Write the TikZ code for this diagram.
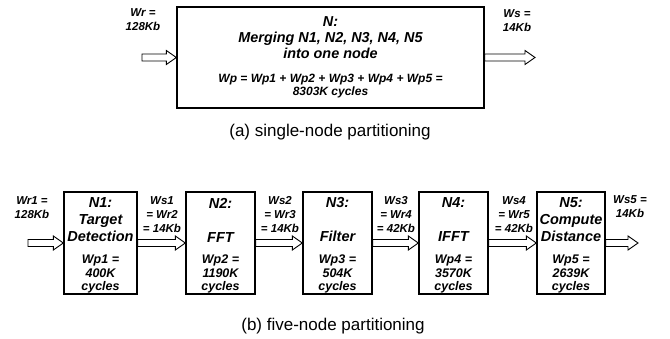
\documentclass[tikz,border=0pt]{standalone}
\usepackage{fontspec}
\setmainfont{Liberation Sans}
\usetikzlibrary{calc}

% hollow block arrow from one point to another (horizontal)
\newcommand\blockarrow[2]{%
  \draw[blockarrow] let \p1=(#1), \p2=(#2) in
    (\x1,\y1+3.5pt) -- (\x2-10pt,\y1+3.5pt) -- (\x2-10pt,\y1+7pt) -- (\x2,\y1)
    -- (\x2-10pt,\y1-7pt) -- (\x2-10pt,\y1-3.5pt) -- (\x1,\y1-3.5pt) -- cycle;}

\tikzset{
  blockarrow/.style={draw=black, fill=white, line width=0.9pt, line join=miter},
  procbox/.style={draw=black, line width=1.3pt, inner sep=0pt},
  bigtitle/.style={font=\fontsize{14.4}{16}\selectfont\bfseries\itshape, align=center, inner sep=0pt},
  bigwp/.style={font=\fontsize{12}{13.5}\selectfont\bfseries\itshape, align=center, inner sep=0pt},
  title/.style={font=\fontsize{14.5}{17}\selectfont\bfseries\itshape, align=center, inner sep=0pt},
  wp/.style={font=\fontsize{12.5}{13.5}\selectfont\bfseries\itshape, align=center, inner sep=0pt},
  flow/.style={font=\fontsize{11.5}{14}\selectfont\bfseries\itshape, align=center, inner sep=0pt},
  caption/.style={font=\fontsize{17}{20}\selectfont, inner sep=0pt},
}

\begin{document}
\begin{tikzpicture}[x=1pt, y=-1pt]
\fill[white] (0,0) rectangle (670,339);
\useasboundingbox (0,0) rectangle (670,339);

% ---------- (a) single node ----------
\node[procbox, minimum width=307pt, minimum height=101pt] (top) at (330.5,57.5) {};
\node[bigtitle] (toptitle) at (330.5,37.5) {N:\\Merging N1, N2, N3, N4, N5\\into one node};
\node[bigwp] (topwp) at (330.5,86) {Wp = Wp1 + Wp2 + Wp3 + Wp4 + Wp5 =\\8303K cycles};
\coordinate (in0) at (142,57.5);
\coordinate (out0) at (535,57.5);
\blockarrow{in0}{top.west}
\blockarrow{top.east}{out0}
\node[flow] (wr) at (143,20) {Wr =\\128Kb};
\node[flow] (ws) at (517,21) {Ws =\\14Kb};
\node[caption] (capa) at (330,132) {(a) single-node partitioning};

% ---------- (b) five nodes ----------
\node[procbox, minimum width=73pt, minimum height=102pt] (n1) at (100.5,243) {};
\node[procbox, minimum width=69pt, minimum height=102pt] (n2) at (220.5,243) {};
\node[procbox, minimum width=69pt, minimum height=102pt] (n3) at (337.5,243) {};
\node[procbox, minimum width=69pt, minimum height=102pt] (n4) at (453.5,243) {};
\node[procbox, minimum width=68pt, minimum height=102pt] (n5) at (571,243) {};

\node[title] (t1) at (100.5,220) {N1:\\Target\\Detection};
\node[title] (t2) at (220.5,220) {N2:\\~\\FFT};
\node[title] (t3) at (337.5,220) {N3:\\~\\Filter};
\node[title] (t4) at (453.5,220) {N4:\\~\\IFFT};
\node[title] (t5) at (571,220) {N5:\\Compute\\Distance};

\node[wp] (w1) at (100.5,274) {Wp1 =\\400K\\cycles};
\node[wp] (w2) at (220.5,274) {Wp2 =\\1190K\\cycles};
\node[wp] (w3) at (337.5,274) {Wp3 =\\504K\\cycles};
\node[wp] (w4) at (453.5,274) {Wp4 =\\3570K\\cycles};
\node[wp] (w5) at (571,274) {Wp5 =\\2639K\\cycles};

\coordinate (in1) at (28,243);
\coordinate (out5) at (638,243);
\blockarrow{in1}{n1.west}
\blockarrow{n1.east}{n2.west}
\blockarrow{n2.east}{n3.west}
\blockarrow{n3.east}{n4.west}
\blockarrow{n4.east}{n5.west}
\blockarrow{n5.east}{out5}

\node[flow] (l0) at (32,207.5) {Wr1 =\\128Kb};
\node[flow] (l1) at (162,214.5) {Ws1\\= Wr2\\= 14Kb};
\node[flow] (l2) at (280,214.5) {Ws2\\= Wr3\\= 14Kb};
\node[flow] (l3) at (396,214.5) {Ws3\\= Wr4\\= 42Kb};
\node[flow] (l4) at (514,214.5) {Ws4\\= Wr5\\= 42Kb};
\node[flow] (l5) at (630,207) {Ws5 =\\14Kb};

\node[caption] (capb) at (333,326) {(b) five-node partitioning};
\end{tikzpicture}
\end{document}
